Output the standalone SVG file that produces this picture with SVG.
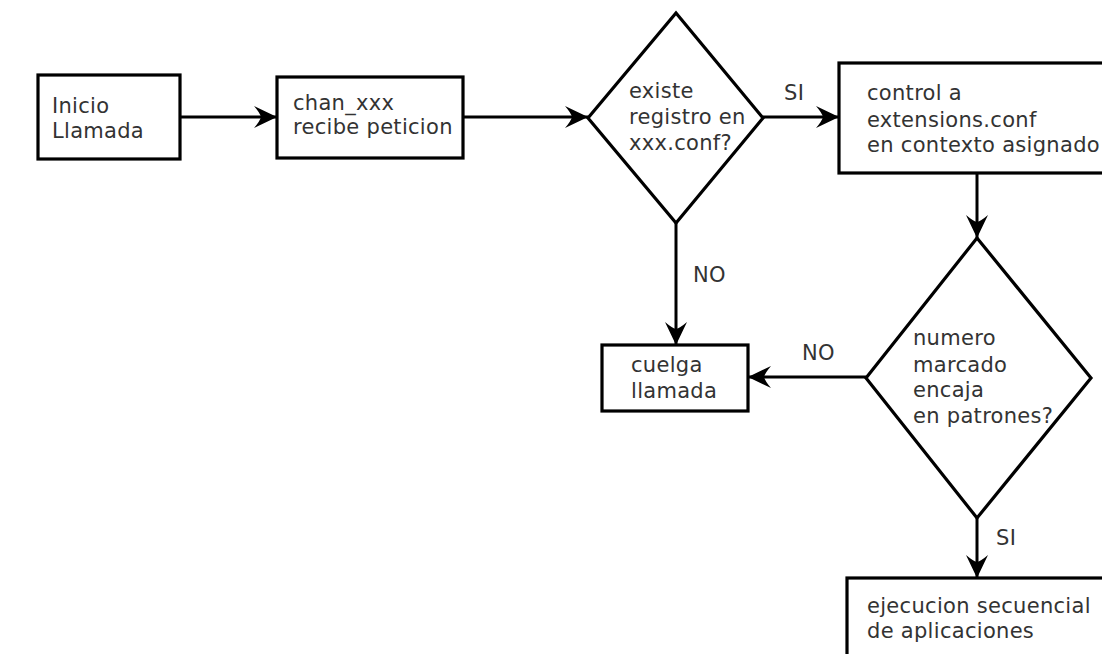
<svg xmlns="http://www.w3.org/2000/svg" width="1102" height="654" viewBox="0 0 1102 654">
<style>
.shape{fill:#fff;stroke:#000;stroke-width:3.2}
.line{fill:none;stroke:#000;stroke-width:3}
text{font-family:"DejaVu Sans",sans-serif;font-size:21px;fill:#333;letter-spacing:0.3px}
</style>
<defs>
<marker id="arr" markerUnits="userSpaceOnUse" viewBox="-25 -12 26 24" markerWidth="26" markerHeight="24" refX="0" refY="0" orient="auto">
<path d="M0,0 L-23,-11 Q-17,-4 -16,0 Q-17,4 -23,11 Z" fill="#000"/>
</marker>
</defs>
<rect width="1102" height="654" fill="#fff"/>
<g id="connectors">
<line class="line" x1="181" y1="117" x2="277" y2="117" marker-end="url(#arr)"/>
<line class="line" x1="463" y1="117" x2="588" y2="117" marker-end="url(#arr)"/>
<line class="line" x1="763" y1="117" x2="839" y2="117" marker-end="url(#arr)"/>
<line class="line" x1="977" y1="173" x2="977" y2="238" marker-end="url(#arr)"/>
<line class="line" x1="676" y1="223" x2="676" y2="345" marker-end="url(#arr)"/>
<line class="line" x1="866" y1="377" x2="748" y2="377" marker-end="url(#arr)"/>
<line class="line" x1="977" y1="518" x2="977" y2="578" marker-end="url(#arr)"/>
<text x="784" y="100">SI</text>
<text x="693" y="282">NO</text>
<text x="802" y="360">NO</text>
<text x="996" y="545">SI</text>
</g>
<g id="inicio">
<rect class="shape" x="38" y="75" width="142" height="84"/>
<text x="52" y="113">Inicio</text>
<text x="52" y="138">Llamada</text>
</g>
<g id="chan">
<rect class="shape" x="277" y="77" width="186" height="81"/>
<text x="293" y="110">chan_xxx</text>
<text x="293" y="134">recibe peticion</text>
</g>
<g id="existe">
<polygon class="shape" points="676,13 763,118 676,223 588,118"/>
<text x="629" y="98">existe</text>
<text x="629" y="124">registro en</text>
<text x="629" y="150">xxx.conf?</text>
</g>
<g id="control">
<rect class="shape" x="839" y="63" width="266" height="110"/>
<text x="867" y="100">control a</text>
<text x="867" y="127">extensions.conf</text>
<text x="867" y="152">en contexto asignado</text>
</g>
<g id="numero">
<polygon class="shape" points="977,238 1091,378 977,518 866,378"/>
<text x="913" y="345">numero</text>
<text x="913" y="372">marcado</text>
<text x="913" y="397">encaja</text>
<text x="913" y="423">en patrones?</text>
</g>
<g id="cuelga">
<rect class="shape" x="602" y="345" width="146" height="66"/>
<text x="631" y="372">cuelga</text>
<text x="631" y="398">llamada</text>
</g>
<g id="ejecucion">
<rect class="shape" x="847" y="578" width="260" height="90"/>
<text x="867" y="613">ejecucion secuencial</text>
<text x="867" y="638">de aplicaciones</text>
</g>
</svg>
